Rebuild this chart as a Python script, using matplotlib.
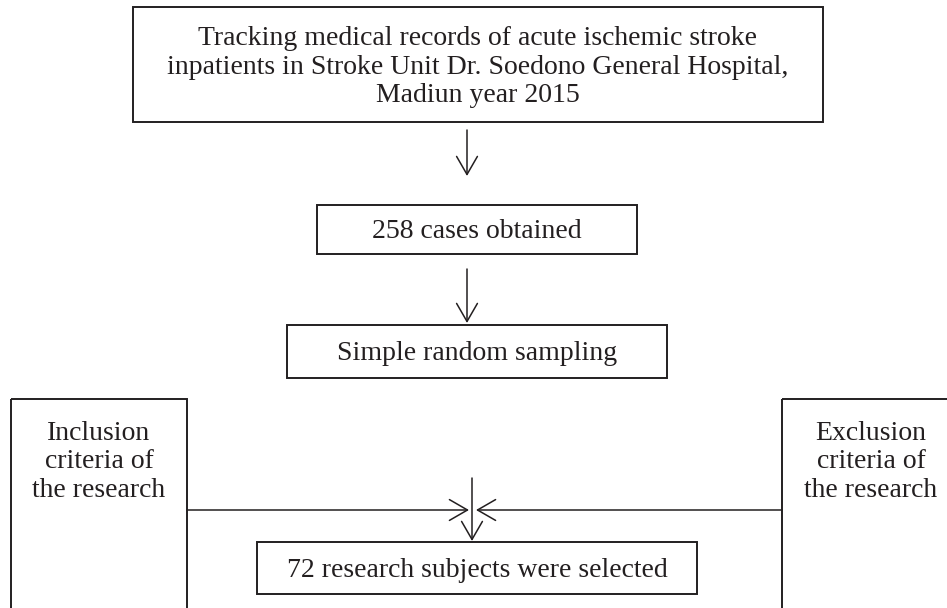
import matplotlib
matplotlib.use("Agg")
import matplotlib.pyplot as plt
from matplotlib.patches import Rectangle

# Flowchart text
step_labels = [
    "Tracking medical records of acute ischemic stroke\ninpatients in Stroke Unit Dr. Soedono General Hospital,\nMadiun year 2015",
    "258 cases obtained",
    "Simple random sampling",
    "72 research subjects were selected",
]
side_labels = [
    "Inclusion\ncriteria of\nthe research",
    "Exclusion\ncriteria of\nthe research",
]

# Layout in pixel coordinates (x0, y0, x1, y1), y from the top
step_boxes = [(133, 7, 823, 122), (317, 205, 637, 254), (287, 325, 667, 378), (257, 542, 697, 594)]
side_boxes = [(11, 399, 187, 630), (782, 399, 960, 630)]

W, H = 947, 608
LINE_H = 28.5

fig = plt.figure(figsize=(W / 100, H / 100), dpi=100)
ax = fig.add_axes([0, 0, 1, 1])
ax.set_xlim(0, W)
ax.set_ylim(H, 0)
ax.axis("off")

font = dict(family=["Liberation Serif", "DejaVu Serif"], fontsize=20, color="#231f20")
edge = "#231f20"


def put_lines(x, first_baseline, label):
    for i, line in enumerate(label.split("\n")):
        ax.text(x, first_baseline + i * LINE_H, line, ha="center", va="baseline", **font)


for (x0, y0, x1, y1), label in zip(step_boxes, step_labels):
    ax.add_patch(Rectangle((x0, y0), x1 - x0, y1 - y0, fill=False, ec=edge, lw=1.4))
    n = label.count("\n") + 1
    mid = (y0 + y1) / 2
    put_lines((x0 + x1) / 2, mid + 9 - (n - 1) * LINE_H / 2, label)

for (x0, y0, x1, y1), label in zip(side_boxes, side_labels):
    ax.add_patch(Rectangle((x0, y0), x1 - x0, y1 - y0, fill=False, ec=edge, lw=1.4))
    put_lines((x0 + x1) / 2, y0 + 41, label)

arrow = dict(arrowstyle="->,head_length=13,head_width=7.5", mutation_scale=1,
             color=edge, lw=1.1, shrinkA=0, shrinkB=0)


def draw_arrow(start, end):
    ax.annotate("", xy=end, xytext=start, arrowprops=arrow)


draw_arrow((467, 130), (467, 176))
draw_arrow((467, 269), (467, 323))
draw_arrow((472, 478), (472, 541))
draw_arrow((187, 510), (469, 510))
draw_arrow((782, 510), (476, 510))

fig.savefig("out.png", dpi=100, facecolor="white")
